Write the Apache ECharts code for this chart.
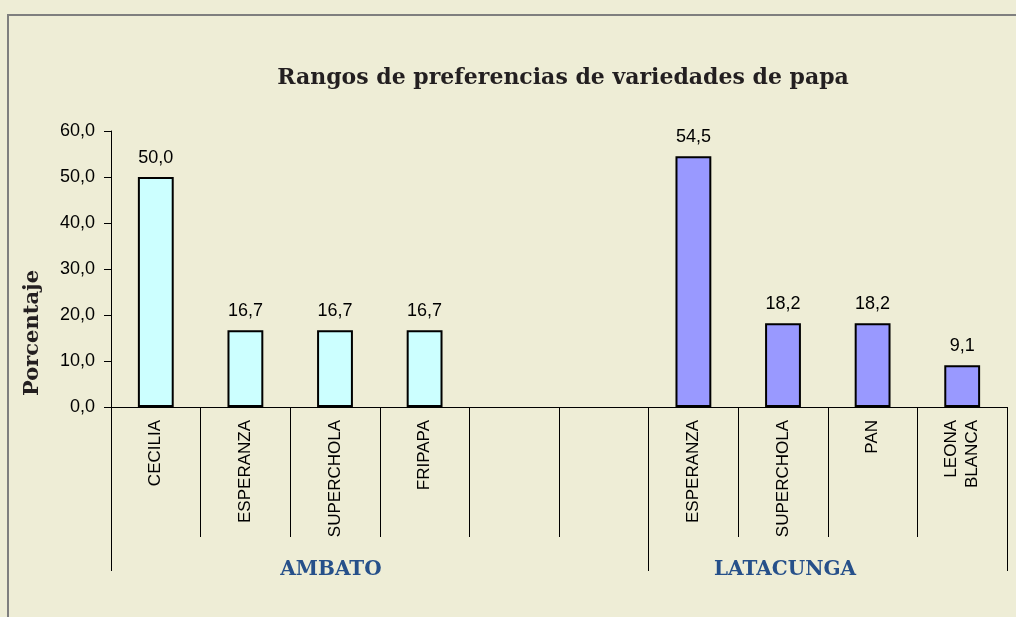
<!DOCTYPE html>
<html>
<head>
<meta charset="utf-8">
<title>Rangos de preferencias</title>
<script src="https://cdn.jsdelivr.net/npm/echarts@6/dist/echarts.min.js"></script>
</head>
<body style="margin:0px;background:#EEEDD6;">
<div id="main" style="width:1016px;height:617px;"></div>
<script type="text/javascript">
// variedades (dos columnas vacias separan los grupos)
var categorias = ['CECILIA', 'ESPERANZA', 'SUPERCHOLA', 'FRIPAPA', '', '', 'ESPERANZA', 'SUPERCHOLA', 'PAN', 'LEONA\nBLANCA'];
var ambato    = [50.0, 16.7, 16.7, 16.7, '-', '-', '-', '-', '-', '-'];
var latacunga = ['-', '-', '-', '-', '-', '-', 54.5, 18.2, 18.2, 9.1];
var grupos = ['AMBATO', 'LATACUNGA'];
var yTicks = [0, 10, 20, 30, 40, 50, 60];
</script>
<script type="text/javascript">
var myChart = echarts.init(document.getElementById('main'));

function coma(v) {
	return Number(v).toFixed(1).replace('.', ',');
}

var etiqueta = {
	show: true,
	position: 'top',
	distance: 10,
	color: '#000',
	fontFamily: 'Liberation Sans',
	fontSize: 18,
	formatter: function(p) { return coma(p.value); }
};

var serif = '"DejaVu Serif", serif';

var option = {
	backgroundColor: '#EEEDD6',
	animation: false,
	title: {
		text: 'Rangos de preferencias de variedades de papa',
		left: 558,
		top: 62,
		textAlign: 'center',
		textStyle: {fontFamily: serif, fontWeight: 'bold', fontSize: 22, color: '#231F20'}
	},
	grid: {left: 111, right: 9, top: 131, bottom: 210},
	xAxis: [{
		type: 'category',
		data: categorias,
		axisLine: {lineStyle: {color: '#000', width: 1}},
		axisTick: {show: true, interval: 0, length: 130, lineStyle: {color: '#000'}},
		axisLabel: {
			interval: 0, rotate: 90, margin: 13,
			color: '#000', fontFamily: 'Liberation Sans', fontSize: 17, lineHeight: 21
		}
	}, {
		type: 'category',
		data: categorias,
		position: 'bottom',
		axisLine: {show: false},
		axisLabel: {show: false},
		axisTick: {
			show: true,
			length: 164,
			interval: function(i) { return i === 0 || i === 6; },
			lineStyle: {color: '#000'}
		}
	}],
	yAxis: {
		type: 'value',
		min: yTicks[0],
		max: yTicks[yTicks.length - 1],
		interval: 10,
		splitLine: {show: false},
		axisLine: {show: true, lineStyle: {color: '#000'}},
		axisTick: {show: true, length: 7, lineStyle: {color: '#000'}},
		axisLabel: {
			margin: 16, color: '#000', fontFamily: 'Liberation Sans', fontSize: 18,
			formatter: coma
		}
	},
	graphic: [
		{type: 'rect', shape: {x: 8, y: 15, width: 1100, height: 700},
		 style: {fill: null, stroke: '#7F7F7F', lineWidth: 2}, silent: true},
		{type: 'text', x: 33, y: 333, rotation: Math.PI / 2,
		 style: {text: 'Porcentaje', fontFamily: serif, fontWeight: 'bold', fontSize: 21,
		         fill: '#231F20', textAlign: 'center', textVerticalAlign: 'middle'}},
		{type: 'text', x: 331, y: 570,
		 style: {text: grupos[0], fontFamily: serif, fontWeight: 'bold', fontSize: 20,
		         fill: '#26508A', textAlign: 'center', textVerticalAlign: 'middle'}},
		{type: 'text', x: 785, y: 570,
		 style: {text: grupos[1], fontFamily: serif, fontWeight: 'bold', fontSize: 20,
		         fill: '#26508A', textAlign: 'center', textVerticalAlign: 'middle'}}
	],
	series: [{
		name: 'AMBATO',
		type: 'bar',
		data: ambato,
		barWidth: '40%',
		barGap: '-100%',
		itemStyle: {color: '#CCFFFF', borderColor: '#000', borderWidth: 2},
		label: etiqueta
	}, {
		name: 'LATACUNGA',
		type: 'bar',
		data: latacunga,
		barWidth: '40%',
		barGap: '-100%',
		itemStyle: {color: '#9999FF', borderColor: '#000', borderWidth: 2},
		label: etiqueta
	}]
};

myChart.setOption(option);
</script>
</body>
</html>
